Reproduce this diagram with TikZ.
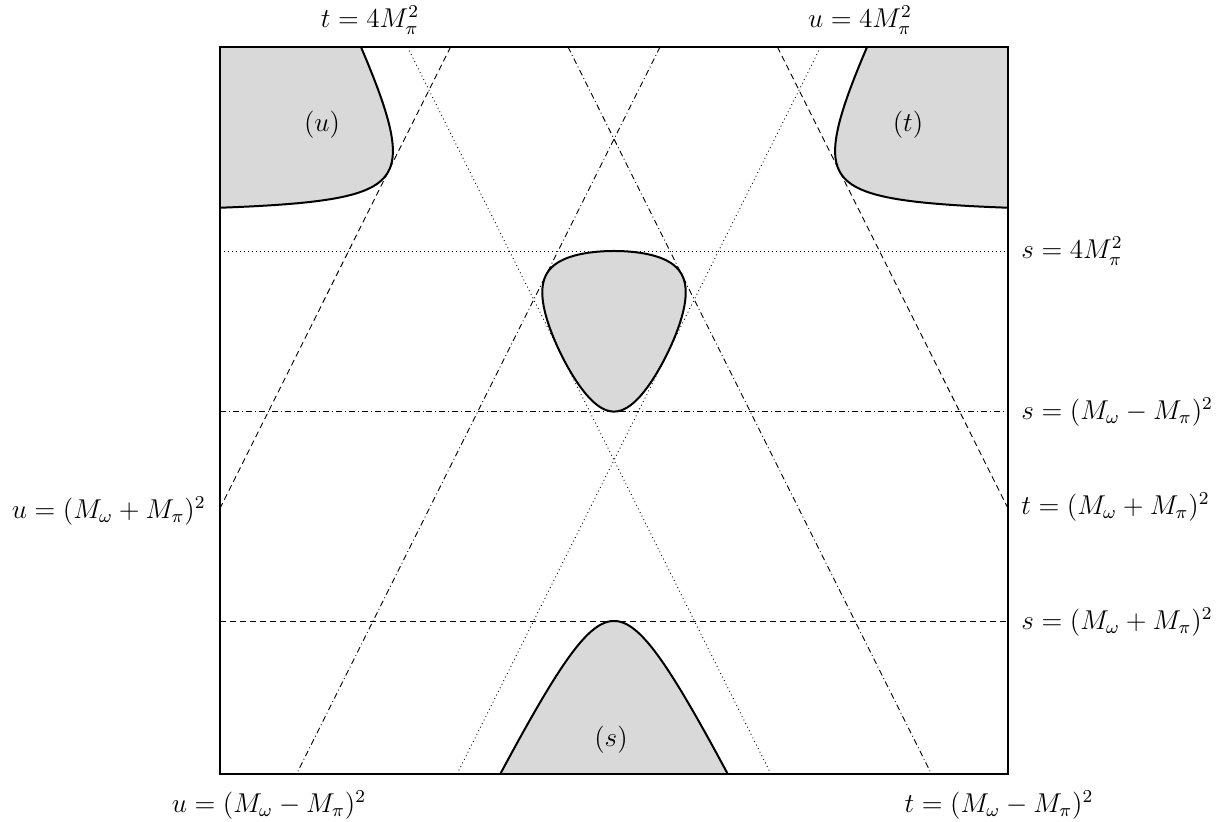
\documentclass[tikz,border=0pt]{standalone}
\begin{document}
\begin{tikzpicture}[x=0.5pt,y=-0.5pt,
  declare function={
    fmand(\vs)=(6.69989-\vs)*(6.69989-\vs)-27.32291/\vs;
    sdec(\vp)=0.7795264+1.6736256*(1-cos(\vp));
    sbot(\vq)=8.4934656+3.2565*\vq*\vq;
  },
  region/.style={fill=black!15},
  bound/.style={line width=1pt},
  frame/.style={line width=0.6pt},
  thinline/.style={line width=0.45pt},
  dotline/.style={thinline,dash pattern=on 0.45pt off 1.55pt},
  dashline/.style={thinline,dash pattern=on 3pt off 2pt},
  dashdotline/.style={thinline,dash pattern=on 3pt off 1.5pt on 0.45pt off 1.5pt},
  lbl/.style={inner sep=0pt,font=\large,scale=1.135,transform shape},
]
\useasboundingbox (0,0) rectangle (1221,822);

% frame corners
\coordinate (NW) at (220,47);
\coordinate (SE) at (1008,774);

% line end points
\coordinate (t4a) at (407.4,47);   \coordinate (t4b) at (770.9,774);
\coordinate (u4a) at (820.6,47);   \coordinate (u4b) at (457.1,774);
\coordinate (tma) at (568.0,47);   \coordinate (tmb) at (931.4,774);
\coordinate (uma) at (660.0,47);   \coordinate (umb) at (296.6,774);
\coordinate (tpa) at (777.4,47);   \coordinate (tpb) at (1008,508.3);
\coordinate (upa) at (450.6,47);   \coordinate (upb) at (220,508.3);
\coordinate (s4a) at (220,251);    \coordinate (s4b) at (1008,251);
\coordinate (sma) at (220,411.5);  \coordinate (smb) at (1008,411.5);
\coordinate (spa) at (220,621);    \coordinate (spb) at (1008,621);

\begin{scope}
\clip (NW) rectangle (SE);
% u-channel region
\fill[region] plot[domain=1.3:-2.2,samples=200,smooth,variable=\vw]
  ({614-23.98*sqrt((6.69989+exp(\vw))*(6.69989+exp(\vw))+27.32291*exp(-\vw))},{213.61-47.965*exp(\vw)})
  -- (150,230) -- (150,0) -- cycle;
% t-channel region
\fill[region] plot[domain=1.3:-2.2,samples=200,smooth,variable=\vw]
  ({614+23.98*sqrt((6.69989+exp(\vw))*(6.69989+exp(\vw))+27.32291*exp(-\vw))},{213.61-47.965*exp(\vw)})
  -- (1080,230) -- (1080,0) -- cycle;
% decay region
\fill[region] plot[domain=0:180,samples=121,smooth,variable=\vp]
  ({614+23.98*sqrt(max(0,fmand(sdec(\vp))))},{251+80.2755*(1-cos(\vp))})
  -- plot[domain=180:0,samples=121,smooth,variable=\vp]
  ({614-23.98*sqrt(max(0,fmand(sdec(\vp))))},{251+80.2755*(1-cos(\vp))}) -- cycle;
% s-channel region
\fill[region] plot[domain=1:0,samples=121,smooth,variable=\vq]
  ({614-23.98*sqrt(max(0,fmand(sbot(\vq))))},{621+156.198*\vq*\vq})
  -- plot[domain=0:1,samples=121,smooth,variable=\vq]
  ({614+23.98*sqrt(max(0,fmand(sbot(\vq))))},{621+156.198*\vq*\vq}) -- cycle;

% threshold lines
\draw[dotline] (t4a) -- (t4b);
\draw[dotline] (u4a) -- (u4b);
\draw[dashdotline] (tma) -- (tmb);
\draw[dashdotline] (uma) -- (umb);
\draw[dashline] (tpa) -- (tpb);
\draw[dashline] (upa) -- (upb);
\draw[dotline] (s4a) -- (s4b);
\draw[dashdotline] (sma) -- (smb);
\draw[dashline] (spa) -- (spb);

% boundaries
\draw[bound] plot[domain=1.3:-2.2,samples=200,smooth,variable=\vw]
  ({614-23.98*sqrt((6.69989+exp(\vw))*(6.69989+exp(\vw))+27.32291*exp(-\vw))},{213.61-47.965*exp(\vw)});
\draw[bound] plot[domain=1.3:-2.2,samples=200,smooth,variable=\vw]
  ({614+23.98*sqrt((6.69989+exp(\vw))*(6.69989+exp(\vw))+27.32291*exp(-\vw))},{213.61-47.965*exp(\vw)});
\draw[bound] plot[domain=0:180,samples=121,smooth,variable=\vp]
  ({614+23.98*sqrt(max(0,fmand(sdec(\vp))))},{251+80.2755*(1-cos(\vp))})
  -- plot[domain=180:0,samples=121,smooth,variable=\vp]
  ({614-23.98*sqrt(max(0,fmand(sdec(\vp))))},{251+80.2755*(1-cos(\vp))}) -- cycle;
\draw[bound] plot[domain=1:0,samples=121,smooth,variable=\vq]
  ({614-23.98*sqrt(max(0,fmand(sbot(\vq))))},{621+156.198*\vq*\vq})
  -- plot[domain=0:1,samples=121,smooth,variable=\vq]
  ({614+23.98*sqrt(max(0,fmand(sbot(\vq))))},{621+156.198*\vq*\vq});
\end{scope}

\draw[frame] (NW) rectangle (SE);

% labels
\node[lbl] (lt4) at (370,20) {$t=4M_\pi^2$};
\node[lbl] (lu4) at (860,20) {$u=4M_\pi^2$};
\node[lbl,anchor=west] (ls4) at (1021,251) {$s=4M_\pi^2$};
\node[lbl,anchor=west] (lsm) at (1021,412) {$s=(M_\omega-M_\pi)^2$};
\node[lbl,anchor=west] (ltp) at (1021,507) {$t=(M_\omega+M_\pi)^2$};
\node[lbl,anchor=west] (lsp) at (1021,622) {$s=(M_\omega+M_\pi)^2$};
\node[lbl,anchor=east] (lup) at (206,511) {$u=(M_\omega+M_\pi)^2$};
\node[lbl] (lum) at (269,805) {$u=(M_\omega-M_\pi)^2$};
\node[lbl] (ltm) at (999,805) {$t=(M_\omega-M_\pi)^2$};
\node[lbl] (ru) at (322,125) {$(u)$};
\node[lbl] (rt) at (908,125) {$(t)$};
\node[lbl] (rs) at (611,740) {$(s)$};
\end{tikzpicture}
\end{document}
